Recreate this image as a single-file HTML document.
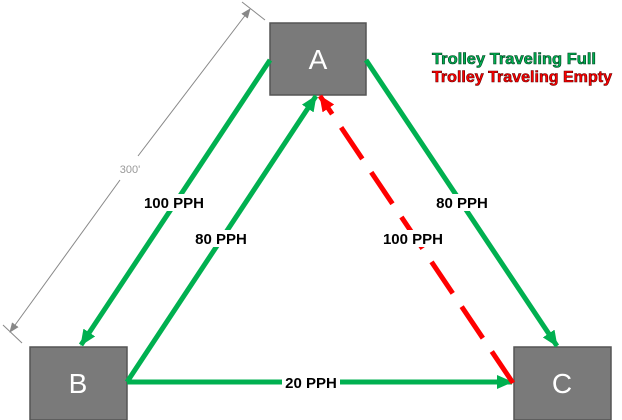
<!DOCTYPE html>
<html><head><style>
html,body{margin:0;padding:0;background:#fff;}
svg{display:block;}
.lbl{font-family:"Liberation Sans",sans-serif;font-weight:bold;font-size:15px;fill:#000;}
.box{font-family:"Liberation Sans",sans-serif;font-size:28px;fill:#fff;}
</style></head><body>
<svg width="622" height="420" viewBox="0 0 622 420" xmlns="http://www.w3.org/2000/svg">
<defs>
<marker id="g" markerWidth="16" markerHeight="14" refX="15" refY="7" orient="auto" markerUnits="userSpaceOnUse"><path d="M0,0 L16,7 L0,14 Z" fill="#00b050"/></marker>
<marker id="r" markerWidth="16" markerHeight="14" refX="15" refY="7" orient="auto" markerUnits="userSpaceOnUse"><path d="M0,0 L16,7 L0,14 Z" fill="#ff0000"/></marker>
<marker id="d" markerWidth="10" markerHeight="8" refX="9" refY="4" orient="auto" markerUnits="userSpaceOnUse"><path d="M0,0 L10,4 L0,8 Z" fill="#888"/></marker>
</defs>
<line x1="242" y1="2" x2="265" y2="20" stroke="#888" stroke-width="1"/>
<line x1="3" y1="325" x2="22" y2="343" stroke="#888" stroke-width="1"/>
<line x1="138" y1="156" x2="250" y2="9" stroke="#888" stroke-width="1" marker-end="url(#d)"/>
<line x1="120" y1="180" x2="10" y2="332" stroke="#888" stroke-width="1" marker-end="url(#d)"/>
<text x="130" y="173" font-family="Liberation Sans,sans-serif" font-size="11" fill="#999" text-anchor="middle">300'</text>
<rect x="270" y="23" width="96" height="72" fill="#7a7a7a" stroke="#555" stroke-width="1.5"/>
<rect x="30" y="347" width="97" height="73" fill="#7a7a7a" stroke="#555" stroke-width="1.5"/>
<rect x="514" y="347" width="97" height="73" fill="#7a7a7a" stroke="#555" stroke-width="1.5"/>
<text class="box" x="318" y="69" text-anchor="middle">A</text>
<text class="box" x="78" y="393" text-anchor="middle">B</text>
<text class="box" x="562" y="393" text-anchor="middle">C</text>
<line x1="270" y1="60" x2="81" y2="345" stroke="#00b050" stroke-width="5" marker-end="url(#g)"/>
<line x1="127" y1="382" x2="316" y2="96" stroke="#00b050" stroke-width="5" marker-end="url(#g)"/>
<line x1="366" y1="60" x2="557" y2="346" stroke="#00b050" stroke-width="5" marker-end="url(#g)"/>
<line x1="127" y1="382" x2="512" y2="382" stroke="#00b050" stroke-width="5" marker-end="url(#g)"/>
<line x1="513" y1="383" x2="320" y2="96" stroke="#ff0000" stroke-width="5" stroke-dasharray="38,16" marker-end="url(#r)"/>
<rect x="141" y="194" width="66" height="17" fill="#fff"/>
<text class="lbl" x="174" y="208" text-anchor="middle">100 PPH</text>
<rect x="192" y="230" width="58" height="17" fill="#fff"/>
<text class="lbl" x="221" y="244" text-anchor="middle">80 PPH</text>
<rect x="433" y="194" width="58" height="17" fill="#fff"/>
<text class="lbl" x="462" y="208" text-anchor="middle">80 PPH</text>
<rect x="380" y="230" width="66" height="17" fill="#fff"/>
<text class="lbl" x="413" y="244" text-anchor="middle">100 PPH</text>
<rect x="282" y="374" width="58" height="17" fill="#fff"/>
<text class="lbl" x="311" y="388" text-anchor="middle">20 PPH</text>
<text x="432" y="64" font-family="Liberation Sans,sans-serif" font-weight="bold" font-size="15.5" fill="#00b050" stroke="#004020" stroke-width="0.6" textLength="164" lengthAdjust="spacingAndGlyphs">Trolley Traveling Full</text>
<text x="432" y="82" font-family="Liberation Sans,sans-serif" font-weight="bold" font-size="15.5" fill="#ff0000" stroke="#600000" stroke-width="0.6" textLength="180" lengthAdjust="spacingAndGlyphs">Trolley Traveling Empty</text>
</svg>
</body></html>
